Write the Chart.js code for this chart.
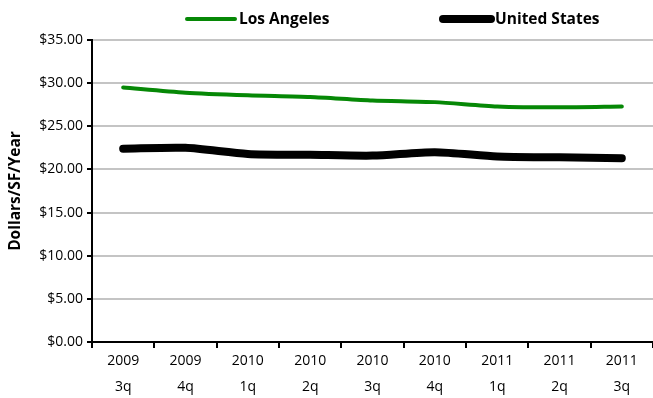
<!DOCTYPE html>
<html>
<head>
<meta charset="utf-8">
<script src="https://cdn.jsdelivr.net/npm/chart.js@4/dist/chart.umd.min.js"></script>
<style>
  html, body { margin: 0; padding: 0; background: #fff; }
  #wrap { width: 653px; height: 398px; }
</style>
</head>
<body>
<div id="wrap"><canvas id="rentChart"></canvas></div>
<script>
// Asking rents, quarterly
const quarters = [["2009", "3q"], ["2009", "4q"], ["2010", "1q"], ["2010", "2q"], ["2010", "3q"],
                  ["2010", "4q"], ["2011", "1q"], ["2011", "2q"], ["2011", "3q"]];
const losAngeles = [29.5, 28.9, 28.6, 28.4, 28.0, 27.8, 27.3, 27.2, 27.3];
const unitedStates = [22.4, 22.5, 21.8, 21.7, 21.6, 22.0, 21.5, 21.4, 21.3];

const textFont = "'Open Sans', 'DejaVu Sans', sans-serif";

// legend drawn by hand: short thick line followed by bold label
const lineLegend = {
  id: "lineLegend",
  afterDraw(chart, args, opts) {
    const ctx = chart.ctx;
    ctx.save();
    ctx.font = "bold 15.5px " + textFont;
    ctx.textBaseline = "middle";
    chart.data.datasets.forEach((ds, i) => {
      const x = opts.starts[i];
      ctx.strokeStyle = ds.borderColor;
      ctx.lineWidth = ds.borderWidth;
      ctx.lineCap = "round";
      ctx.beginPath();
      ctx.moveTo(x, opts.y);
      ctx.lineTo(x + opts.lineLen, opts.y);
      ctx.stroke();
      ctx.fillStyle = "#000";
      ctx.fillText(ds.label, x + opts.lineLen + 4, opts.y + 1);
    });
    ctx.restore();
  }
};

new Chart(document.getElementById("rentChart"), {
  type: "line",
  data: {
    labels: quarters,
    datasets: [
      {
        label: "Los Angeles",
        data: losAngeles,
        borderColor: "#068806",
        borderWidth: 4,
        pointRadius: 0,
        tension: 0.25,
        borderCapStyle: "round"
      },
      {
        label: "United States",
        data: unitedStates,
        borderColor: "#000000",
        borderWidth: 8,
        pointRadius: 0,
        tension: 0.25,
        borderCapStyle: "round"
      }
    ]
  },
  options: {
    responsive: true,
    maintainAspectRatio: false,
    animation: false,
    layout: { padding: { top: 40, right: 0, left: 0, bottom: 0 } },
    plugins: {
      legend: { display: false },
      tooltip: { enabled: false },
      lineLegend: { starts: [187, 443], lineLen: 48, y: 19 }
    },
    scales: {
      x: {
        offset: true,
        grid: { display: true, drawOnChartArea: false, offset: true, color: "#000", lineWidth: 2, tickLength: 6 },
        border: { color: "#000", width: 2 },
        ticks: {
          color: "#000",
          font: { family: textFont, size: 14, lineHeight: 1.85 },
          maxRotation: 0,
          padding: 0
        },
        afterFit(scale) { scale.height = 56; }
      },
      y: {
        min: 0,
        max: 35,
        ticks: {
          stepSize: 5,
          color: "#000",
          font: { family: textFont, size: 14 },
          padding: 4,
          callback: (v) => "$" + v.toFixed(2)
        },
        grid: { color: "#c4c4c4", lineWidth: 2, tickLength: 5, tickColor: "#000", tickWidth: 2 },
        border: { color: "#000", width: 2 },
        title: {
          display: true,
          text: "Dollars/SF/Year",
          color: "#000",
          font: { family: textFont, size: 15.5, weight: "bold" },
          padding: { top: 6, bottom: 0 }
        },
        afterFit(scale) { scale.width = 92; }
      }
    }
  },
  plugins: [lineLegend]
});
</script>
</body>
</html>
